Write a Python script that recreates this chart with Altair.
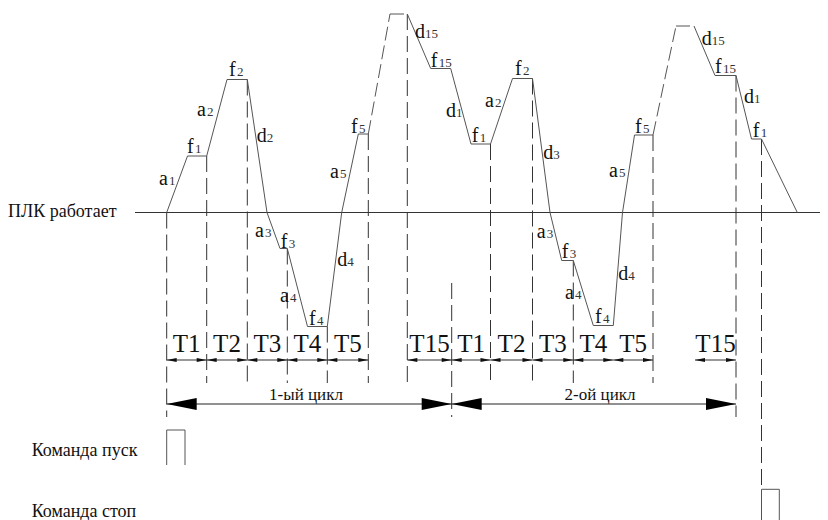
import altair as alt
import pandas as pd

# ---------------- data ----------------
# frequency profile: time position and frequency level (0 = "ПЛК работает" line)
prof_t = [166.7, 187.5, 206.7, 227.0, 247.3, 267.0, 280.0, 287.3, 307.5, 327.3,
          341.7, 358.3, 368.3, 390.0, 407.3, 430.7, 450.7, 471.0, 490.5, 512.5,
          532.5, 550.0, 561.7, 573.3, 593.3, 613.3, 622.5, 634.5, 653.0, 676.0,
          694.0, 715.0, 736.0, 751.5, 761.5, 797.3]
prof_f = [0, 56.5, 56.5, 133, 133, 0, -36, -36, -114, -114,
          0, 78.5, 78.5, 198.5, 198.5, 144, 144, 68.5, 68.5, 134,
          134, 0, -48, -48, -113, -113, 0, 77.5, 77.5, 186.5,
          186.5, 137, 137, 73.5, 73.5, 0]
dashed_segments = [12, 13, 28, 29]

# vertical dashed guides
guide_t = [166.7, 206.7, 247.3, 287.3, 327.3, 368.3, 407.3, 451.7, 490.5,
           532.5, 573.3, 653.0, 736.0, 761.5]
guide_top = [0, 56.5, 133, -36, -114, 78.5, 198.5, -70.5, 68.5,
             134, -48, 77.5, 137, 73.5]
guide_bottom = [-204.5, -170.5, -170.5, -170.5, -170.5, -170.5, -170.5, -204.5,
                -170.5, -170.5, -170.5, -170.5, -204.5, -274.5]

# interval labels
seg_names = ["T1", "T2", "T3", "T4", "T5", "T15",
             "T1", "T2", "T3", "T4", "T5", "T15"]
seg_start = [166.7, 206.7, 247.3, 287.3, 327.3, 407.3,
             451.7, 490.5, 532.5, 573.3, 613.3, 695.0]
seg_end = [206.7, 247.3, 287.3, 327.3, 368.3, 451.7,
           490.5, 532.5, 573.3, 613.3, 653.0, 736.0]
seg_row = -147.5
seg_label_row = -139.5

# cycles
cycle_names = ["1-ый цикл", "2-ой цикл"]
cycle_start = [166.7, 451.7]
cycle_end = [451.7, 736.0]
cycle_label_x = [306.0, 600.0]
cycle_row = -191.5
cycle_label_row = -187.5

# curve labels: letter, index, x, level
lab_letter = ["a", "f", "a", "f", "d", "a", "f", "a", "f", "d", "a", "f",
              "d", "f", "d", "f",
              "a", "f", "d", "a", "f", "a", "f", "d", "a", "f",
              "d", "f", "d", "f"]
lab_index = ["1", "1", "2", "2", "2", "3", "3", "4", "4", "4", "5", "5",
             "15", "15", "1", "1",
             "2", "2", "3", "3", "3", "4", "4", "4", "5", "5",
             "15", "15", "1", "1"]
lab_x = [159, 187, 197, 229, 256.7, 255, 280.7, 280, 309, 337.3, 330, 351,
         415, 430.7, 446, 471.7,
         485, 515, 543.3, 536.7, 561.7, 565, 595, 618.3, 609, 635,
         701.7, 715, 744, 752.7]
lab_y = [27.5, 59.5, 96.5, 136.5, 70.5, -24.2, -35, -89.2, -112.5, -53.5, 34.2, 79.8,
         174.8, 145.8, 95.8, 70.8,
         105.8, 137.5, 53.2, -25.8, -45.8, -86.8, -110.8, -67.5, 35.8, 79.2,
         167.5, 139.2, 109.8, 75.2]
letter_width = {"a": 10, "f": 8, "d": 10}

# side labels
side_text = ["ПЛК работает", "Команда пуск", "Команда стоп"]
side_x = [8, 31.7, 31.7]
side_y = [-4.5, -243.5, -304.5]

# command pulses (x_left, x_right, top level, bottom level)
pulse_x1 = [166.7, 761.5]
pulse_x2 = [185.0, 779.3]
pulse_top = [-217.5, -276.8]
pulse_bottom = [-252.5, -307.5]

baseline_from = 135.0
baseline_to = 820.0

# ---------------- build tables ----------------
XS = alt.Scale(domain=[8, 820], nice=False, zero=False)
YS = alt.Scale(domain=[-307.5, 204.5], nice=False, zero=False)
FONT = "'Liberation Serif', 'Times New Roman', 'DejaVu Serif', serif"

segs = pd.DataFrame({
    "t": prof_t[:-1], "v": prof_f[:-1], "t2": prof_t[1:], "v2": prof_f[1:],
})
segs["dashed"] = [i in dashed_segments for i in range(len(segs))]

guides = pd.DataFrame({"t": guide_t, "v": guide_top, "v2": guide_bottom})

trow = pd.DataFrame({"t": seg_start, "t2": seg_end, "name": seg_names})
trow["v"] = seg_row
trow["mid"] = (trow["t"] + trow["t2"]) / 2
trow["lv"] = seg_label_row

cyc = pd.DataFrame({"t": [cycle_start[0]], "t2": [cycle_end[-1]], "v": [cycle_row]})
cyc_lab = pd.DataFrame({"t": cycle_label_x, "v": cycle_label_row, "name": cycle_names})

small_arrows = pd.DataFrame({
    "t": seg_start + seg_end,
    "dir": ["L"] * len(seg_start) + ["R"] * len(seg_end),
})
small_arrows["v"] = seg_row
big_arrows = pd.DataFrame({
    "t": cycle_start + cycle_end,
    "dir": ["L"] * len(cycle_start) + ["R"] * len(cycle_end),
})
big_arrows["v"] = cycle_row

labels = pd.DataFrame({"letter": lab_letter, "idx": lab_index, "t": lab_x, "v": lab_y})
labels["ts"] = labels["t"] + labels["letter"].map(letter_width)

side = pd.DataFrame({"text": side_text, "t": side_x, "v": side_y})

pulse_rows = []
for a, b, top, bot in zip(pulse_x1, pulse_x2, pulse_top, pulse_bottom):
    pulse_rows += [
        {"t": a, "v": bot, "t2": a, "v2": top},
        {"t": a, "v": top, "t2": b, "v2": top},
        {"t": b, "v": top, "t2": b, "v2": bot},
    ]
pulses = pd.DataFrame(pulse_rows)

base = pd.DataFrame({"t": [baseline_from], "t2": [baseline_to], "v": [0.0]})

# ---------------- layers ----------------
def X(f="t"):
    return alt.X(f"{f}:Q", scale=XS, axis=None)

def Y(f="v"):
    return alt.Y(f"{f}:Q", scale=YS, axis=None)

baseline = alt.Chart(base).mark_rule(color="#333", strokeWidth=1).encode(
    x=X(), x2="t2:Q", y=Y())

profile_solid = alt.Chart(segs[~segs["dashed"]]).mark_rule(
    color="#555", strokeWidth=1).encode(x=X(), y=Y(), x2="t2:Q", y2="v2:Q")
profile_dashed = alt.Chart(segs[segs["dashed"]]).mark_rule(
    color="#555", strokeWidth=1, strokeDash=[14, 5]).encode(
    x=X(), y=Y(), x2="t2:Q", y2="v2:Q")

guide_layer = alt.Chart(guides).mark_rule(
    color="#333", strokeWidth=1, strokeDash=[16, 6]).encode(
    x=X(), y=Y(), y2="v2:Q")

trow_lines = alt.Chart(trow).mark_rule(color="#333", strokeWidth=1).encode(
    x=X(), x2="t2:Q", y=Y())
trow_text = alt.Chart(trow).mark_text(
    font=FONT, fontSize=25, align="center", baseline="alphabetic", color="#111").encode(
    x=X("mid"), y=Y("lv"), text="name:N")

cyc_line = alt.Chart(cyc).mark_rule(color="#222", strokeWidth=1).encode(
    x=X(), x2="t2:Q", y=Y())
cyc_text = alt.Chart(cyc_lab).mark_text(
    font=FONT, fontSize=17, align="center", baseline="alphabetic", color="#111").encode(
    x=X(), y=Y(), text="name:N")

PATH_L = "M0,0L2,-0.4L2,0.4Z"
PATH_R = "M0,0L-2,-0.4L-2,0.4Z"
shape_enc = alt.Shape("dir:N", scale=alt.Scale(domain=["L", "R"], range=[PATH_L, PATH_R]),
                      legend=None)
small_arr = alt.Chart(small_arrows).mark_point(
    filled=True, size=100, color="#111", opacity=1, strokeWidth=0).encode(
    x=X(), y=Y(), shape=shape_enc)
big_arr = alt.Chart(big_arrows).mark_point(
    filled=True, size=900, color="#000", opacity=1, strokeWidth=0).encode(
    x=X(), y=Y(), shape=shape_enc)

lab_main = alt.Chart(labels).mark_text(
    font=FONT, fontSize=20, align="left", baseline="alphabetic", color="#111").encode(
    x=X(), y=Y(), text="letter:N")
lab_sub = alt.Chart(labels).mark_text(
    font=FONT, fontSize=13, align="left", baseline="alphabetic", color="#333").encode(
    x=X("ts"), y=Y(), text="idx:N")

side_layer = alt.Chart(side).mark_text(
    font=FONT, fontSize=18, align="left", baseline="alphabetic", color="#111").encode(
    x=X(), y=Y(), text="text:N")

pulse_layer = alt.Chart(pulses).mark_rule(color="#555", strokeWidth=1).encode(
    x=X(), y=Y(), x2="t2:Q", y2="v2:Q")

chart = alt.layer(
    baseline, guide_layer, profile_solid, profile_dashed,
    trow_lines, cyc_line, small_arr, big_arr, pulse_layer,
    trow_text, cyc_text, lab_main, lab_sub, side_layer,
).properties(
    width=812, height=512, padding=0,
    autosize=alt.AutoSizeParams(type="none"),
).configure_view(stroke=None)

chart.save("out.html", embed_options={"renderer": "svg", "actions": False})
